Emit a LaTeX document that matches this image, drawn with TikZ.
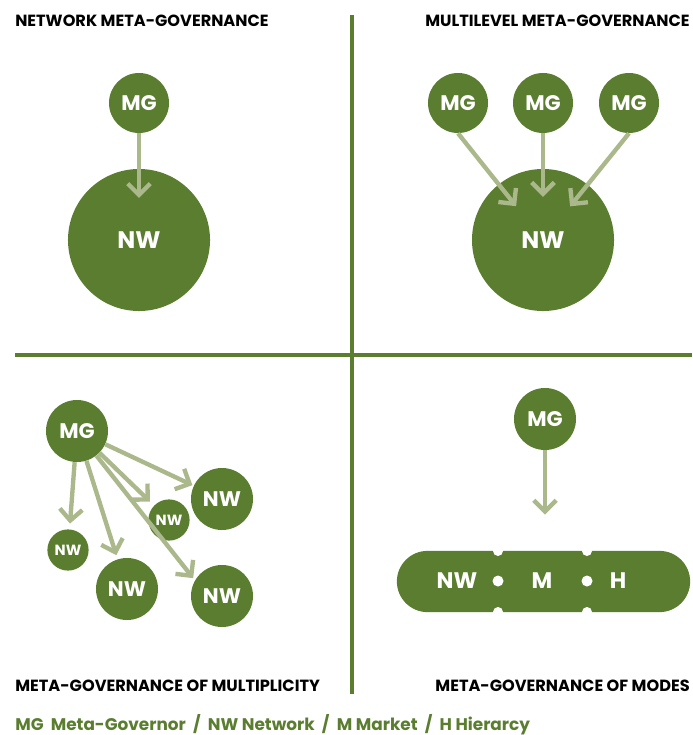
\documentclass[tikz,border=0pt]{standalone}
\usepackage{fontspec}
\setmainfont{Poppins}
\usetikzlibrary{arrows.meta,shapes.misc}
\definecolor{govgreen}{HTML}{5A7D30}
\definecolor{sage}{HTML}{AAB88C}
\begin{document}
\begin{tikzpicture}[x=0.025cm,y=-0.025cm,
  gov/.style={circle,fill=govgreen,text=white,inner sep=0pt},
  big/.style={gov,minimum size=3.55cm,font=\bfseries\fontsize{17}{17}\selectfont},
  mid/.style={gov,minimum size=1.55cm,font=\bfseries\fontsize{15}{15}\selectfont},
  small/.style={gov,minimum size=1.03cm,font=\bfseries\fontsize{10.5}{10.5}\selectfont},
  ttl/.style={font=\bfseries\fontsize{11.5}{11.5}\selectfont,inner sep=0pt},
  link/.style={draw=sage,line width=3.1pt,-{Straight Barb[length=8pt,width=16pt]}},
  rule/.style={draw=govgreen,line width=2.3pt}]
  \useasboundingbox (0,0) rectangle (692,735);
  % quadrant rules
  \draw[rule] (352,15) -- (352,694);
  \draw[rule] (15,355) -- (692,355);
  % network meta-governance
  \node[ttl,anchor=base west] (tA) at (15,27) {NETWORK META-GOVERNANCE};
  \node[mid,minimum size=1.5cm] (mgA) at (139,103) {MG};
  \node[big] (nwA) at (139,240) {NW};
  \draw[link,shorten >=1.05cm] (mgA.south) -- (nwA.center);
  % multilevel meta-governance
  \node[ttl,anchor=base east] (tB) at (690,27) {MULTILEVEL META-GOVERNANCE};
  \foreach \x/\n in {458/1,543/2,629/3}
    \node[mid,minimum size=1.5cm] (mgB\n) at (\x,103) {MG};
  \node[big] (nwB) at (543,240) {NW};
  \foreach \n in {1,2,3}
    \draw[link,shorten >=1.08cm] (mgB\n.south) -- (nwB.center);
  % meta-governance of multiplicity
  \node[ttl,anchor=base west] (tC) at (15,691) {META-GOVERNANCE OF MULTIPLICITY};
  \node[mid] (mgC) at (77,431) {MG};
  \node[small] (nwC1) at (68,550) {NW};
  \node[mid] (nwC2) at (127,589) {NW};
  \node[small] (nwC3) at (169,520) {NW};
  \node[mid] (nwC4) at (222,499) {NW};
  \node[mid] (nwC5) at (222,596) {NW};
  \draw[link,shorten >=4pt] (mgC) -- (nwC1);
  \draw[link,shorten >=3pt] (mgC) -- (nwC2);
  \draw[link,shorten >=4pt] (mgC) -- (nwC3);
  \draw[link,shorten >=1pt] (mgC) -- (nwC4);
  \draw[link,shorten >=2pt] (mgC) -- (nwC5.150);
  % meta-governance of modes
  \node[ttl,anchor=base east] (tD) at (690,691) {META-GOVERNANCE OF MODES};
  \node[mid] (mgD) at (545,419) {MG};
  \node[rounded rectangle,fill=govgreen,inner sep=0pt,minimum width=7.33cm,
    minimum height=1.53cm] (modes) at (543.5,581.5) {};
  \draw[link,shorten >=0.9cm] (mgD.south) -- (mgD.south |- modes.north);
  \foreach \x in {498,587} {
    \fill[white] (\x,551) circle[radius=5];
    \fill[white] (\x,612) circle[radius=5];
    \fill[white] (\x,581) circle[radius=5.5];
  }
  \foreach \x/\t/\n in {457/NW/nw,542/M/m,618/H/h}
    \node[text=white,font=\bfseries\fontsize{16}{16}\selectfont] (mode\n) at (\x,581) {\t};
  % legend
  \node[anchor=base west,inner sep=0pt,text=govgreen,font=\bfseries\fontsize{12}{12}\selectfont]
    (key) at (15,730) {MG\ \ Meta-Governor\ \ /\ \ NW Network\ \ /\ \ M Market\ \ /\ \ H Hierarcy};
\end{tikzpicture}
\end{document}
